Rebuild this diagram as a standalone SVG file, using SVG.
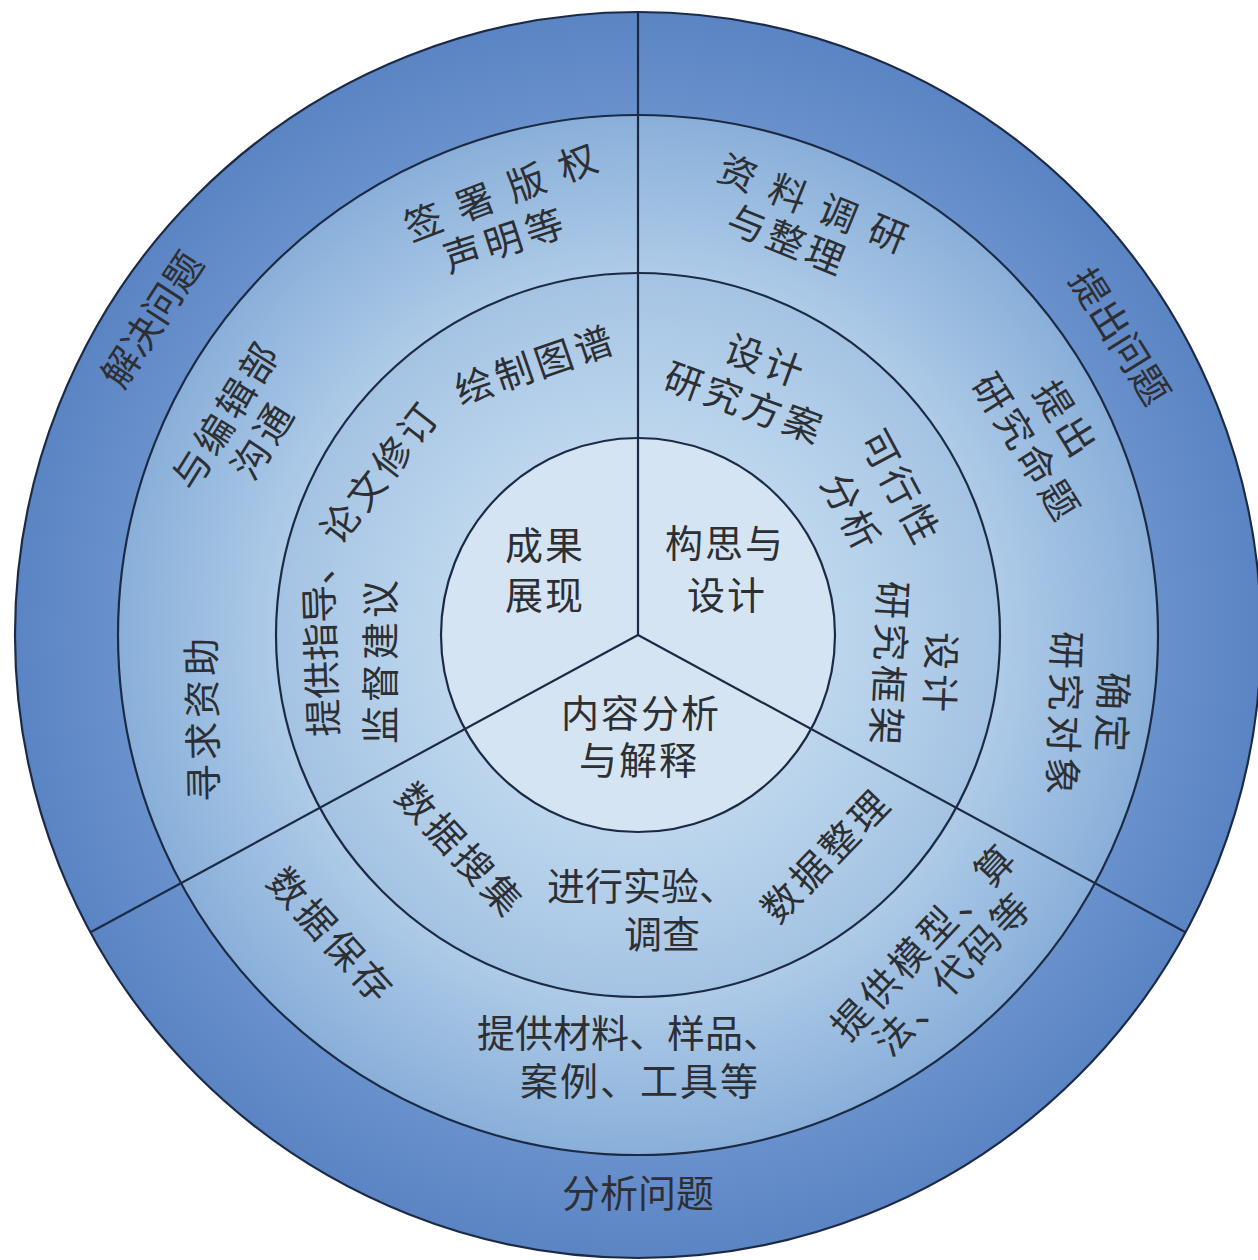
<svg xmlns="http://www.w3.org/2000/svg" width="1258" height="1260" viewBox="0 0 1258 1260">
<style>
.ring{stroke:#1c2b45;stroke-width:2.2}
.sp{stroke:#1c2b45;stroke-width:2.2;fill:none}
text{font-family:"Noto Sans CJK SC","Noto Sans",sans-serif;font-size:38px;fill:#2d2f33;text-anchor:middle;dominant-baseline:central}
</style>
<defs>
<radialGradient id="gOuter" gradientUnits="userSpaceOnUse" cx="638" cy="635" r="623">
<stop offset="0.83" stop-color="#6991cc"/><stop offset="1" stop-color="#5b84c4"/>
</radialGradient>
<radialGradient id="gRing2" gradientUnits="userSpaceOnUse" cx="638" cy="635" r="623">
<stop offset="0.58" stop-color="#aecbe8"/><stop offset="0.835" stop-color="#89afd9"/>
</radialGradient>
<radialGradient id="gRing3" gradientUnits="userSpaceOnUse" cx="638" cy="635" r="623">
<stop offset="0.316" stop-color="#bdd6ed"/><stop offset="0.581" stop-color="#a4c3e3"/>
</radialGradient>
</defs>
<rect width="1258" height="1260" fill="#ffffff"/>
<g id="rings">
<circle id="ring-outer" class="ring" cx="638" cy="635" r="623" fill="url(#gOuter)"/>
<circle id="ring-middle" class="ring" cx="638" cy="635" r="520" fill="url(#gRing2)"/>
<circle id="ring-inner" class="ring" cx="638" cy="635" r="362" fill="url(#gRing3)"/>
<circle id="ring-core" class="ring" cx="638" cy="635" r="197" fill="#d5e4f2"/>
</g>
<g id="connectors">
<line class="sp" x1="638" y1="12" x2="638" y2="635"/>
<line class="sp" x1="638" y1="635" x2="90.5" y2="932.3"/>
<line class="sp" x1="638" y1="635" x2="1185.5" y2="932.3"/>
</g>
<g id="outer-labels">
<g id="n-jiejue"><text transform="translate(150,318) rotate(-57)">解决问题</text></g>
<g id="n-tichu"><text transform="translate(1122,335) rotate(58)">提出问题</text></g>
<g id="n-fenxi"><text transform="translate(638,1190)">分析问题</text></g>
</g>
<g id="middle-labels">
<g id="n-qianshu">
<text transform="translate(500,190) rotate(-21)" x="8" letter-spacing="17">签署版权</text>
<text transform="translate(503,238) rotate(-18)" x="2" letter-spacing="5">声明等</text>
</g>
<g id="n-ziliao">
<text transform="translate(814,201) rotate(22)" x="8" letter-spacing="16">资料调研</text>
<text transform="translate(787,237) rotate(22)" x="2" letter-spacing="4">与整理</text>
</g>
<g id="n-tichu-mt">
<text transform="translate(1067,417) rotate(58)" x="2" letter-spacing="4">提出</text>
<text transform="translate(1028,445) rotate(58)" x="2" letter-spacing="4">研究命题</text>
</g>
<g id="n-queding">
<text transform="translate(1115,712) rotate(92)" x="2" letter-spacing="4">确定</text>
<text transform="translate(1067,713) rotate(92)" x="2" letter-spacing="4">研究对象</text>
</g>
<g id="n-bianjibu">
<text transform="translate(223,415) rotate(-58)" x="2" letter-spacing="4">与编辑部</text>
<text transform="translate(260,440) rotate(-58)" x="2" letter-spacing="4">沟通</text>
</g>
<g id="n-xunqiu"><text transform="translate(200,720) rotate(-91)" x="2" letter-spacing="4">寻求资助</text></g>
<g id="n-baocun"><text transform="translate(332,933) rotate(48)" x="2" letter-spacing="4">数据保存</text></g>
<g id="n-cailiao">
<text transform="translate(629,1030)">提供材料、样品、</text>
<text transform="translate(639,1078)" x="1" letter-spacing="2">案例、工具等</text>
</g>
<g id="n-moxing">
<text transform="translate(921,941) rotate(-47)" x="2" letter-spacing="4">提供模型、算</text>
<text transform="translate(950,973) rotate(-46)" x="2" letter-spacing="4">法、代码等</text>
</g>
</g>
<g id="inner-labels">
<g id="n-huizhi"><text transform="translate(533,363) rotate(-19)" x="2" letter-spacing="4">绘制图谱</text></g>
<g id="n-xiuding"><text transform="translate(377,472) rotate(-52)" x="2" letter-spacing="4">论文修订</text></g>
<g id="n-zhidao">
<text transform="translate(318,642) rotate(-92)">提供指导、</text>
<text transform="translate(377,662) rotate(-90)" x="2" letter-spacing="4">监督建议</text>
</g>
<g id="n-fangan">
<text transform="translate(765,358) rotate(20)" x="2" letter-spacing="4">设计</text>
<text transform="translate(744,400) rotate(20)" x="2" letter-spacing="4">研究方案</text>
</g>
<g id="n-kexing">
<text transform="translate(902,485) rotate(62)" x="2" letter-spacing="4">可行性</text>
<text transform="translate(853,510) rotate(62)" x="2" letter-spacing="4">分析</text>
</g>
<g id="n-kuangjia">
<text transform="translate(943,672) rotate(92)" x="2" letter-spacing="4">设计</text>
<text transform="translate(892,663) rotate(93)" x="2" letter-spacing="4">研究框架</text>
</g>
<g id="n-zhengli"><text transform="translate(823,855) rotate(-46)" x="2" letter-spacing="4">数据整理</text></g>
<g id="n-souji"><text transform="translate(461,847) rotate(47)" x="2" letter-spacing="4">数据搜集</text></g>
<g id="n-shiyan">
<text transform="translate(642,883)">进行实验、</text>
<text transform="translate(662,931)">调查</text>
</g>
</g>
<g id="core-labels">
<g id="n-chengguo">
<text transform="translate(544,542)" x="1" letter-spacing="2">成果</text>
<text transform="translate(544,592)" x="1" letter-spacing="2">展现</text>
</g>
<g id="n-gousi">
<text transform="translate(724,540)" x="1" letter-spacing="2">构思与</text>
<text transform="translate(726,592)" x="1" letter-spacing="2">设计</text>
</g>
<g id="n-neirong">
<text transform="translate(640,710)" x="1" letter-spacing="2">内容分析</text>
<text transform="translate(638,757)" x="1" letter-spacing="2">与解释</text>
</g>
</g>
</svg>
